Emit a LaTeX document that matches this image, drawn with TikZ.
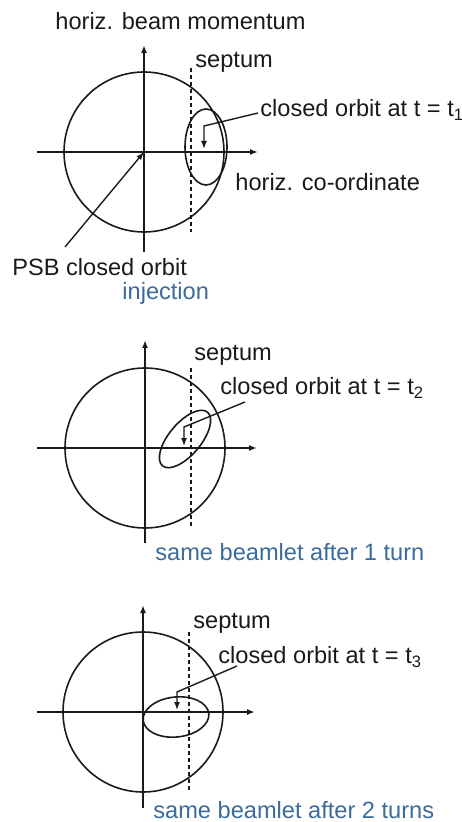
\documentclass[tikz,border=0pt]{standalone}
\usepackage{fontspec}
\setmainfont{Liberation Sans}
\usetikzlibrary{arrows.meta}
\definecolor{INK}{HTML}{1A1A1A}
\definecolor{CAPBLUE}{HTML}{3B6B9B}

\begin{document}
\begin{tikzpicture}[x=0.5pt,y=-0.5pt]
\tikzset{axisline/.style={-{Latex[length=4pt,width=3pt]},line width=0.8pt,INK},orb/.style={line width=0.8pt,INK},
 sept/.style={line width=0.7pt,INK,dash pattern=on 2pt off 1.5pt},ptr/.style={-{Latex[length=4pt,width=3pt]},line width=0.7pt,INK},
 lbl/.style={anchor=west,inner sep=0pt,font=\fontsize{11.8}{14}\selectfont,text=INK},captxt/.style={lbl,text=CAPBLUE}}
\useasboundingbox (0,0) rectangle (461,822);
% injection
\coordinate (o1) at (144,152);
\draw[orb] (o1) circle[radius=80];
\draw[axisline] (144,252) -- (144,45);
\draw[axisline] (37,152) -- (258,152);
\draw[sept] (191,68) -- (191,232);
\draw[orb] (206,147) ellipse[x radius=21,y radius=38];
\node[lbl] (mom) at (55,21) {horiz. beam momentum};
\node[lbl] (sep1) at (195,62) {septum};
\node[lbl] (co1) at (260,110) {closed orbit at t = t\textsubscript{1}};
\node[lbl] (hco) at (235,182) {horiz. co-ordinate};
\node[lbl] (psb) at (12,267) {PSB closed orbit};
\node[captxt] (inj) at (122,293) {injection};
\coordinate (a1) at (258,113);\coordinate (b1) at (204,126);\coordinate (c1) at (204,149);
\draw[ptr] (a1) -- (b1) -- (c1);
\coordinate (p1) at (65,247);
\draw[ptr] (p1) -- (o1);
% after 1 turn
\coordinate (o2) at (145,448);
\draw[orb] (o2) circle[radius=80];
\draw[axisline] (145,543) -- (145,340);
\draw[axisline] (37,448) -- (257,448);
\draw[sept] (191,368) -- (191,527);
\draw[orb,rotate around={50:(185,439)}] (185,439) ellipse[x radius=35,y radius=16];
\node[lbl] (sep2) at (194,355) {septum};
\node[lbl] (co2) at (220,388) {closed orbit at t = t\textsubscript{2}};
\node[captxt] (turn1) at (155,552) {same beamlet after 1 turn};
\coordinate (a2) at (245,402);\coordinate (b2) at (184,427);\coordinate (c2) at (184,446);
\draw[ptr] (a2) -- (b2) -- (c2);
% after 2 turns
\coordinate (o3) at (143,712);
\draw[orb] (o3) circle[radius=80];
\draw[axisline] (143,808) -- (143,605);
\draw[axisline] (37,712) -- (255,712);
\draw[sept] (189,632) -- (189,792);
\draw[orb,rotate around={6:(176,717)}] (176,717) ellipse[x radius=33,y radius=20];
\node[lbl] (sep3) at (193,623) {septum};
\node[lbl] (co3) at (218,657) {closed orbit at t = t\textsubscript{3}};
\node[captxt] (turn2) at (153,810) {same beamlet after 2 turns};
\coordinate (a3) at (237,666);\coordinate (b3) at (177,692);\coordinate (c3) at (177,710);
\draw[ptr] (a3) -- (b3) -- (c3);
\end{tikzpicture}
\end{document}
